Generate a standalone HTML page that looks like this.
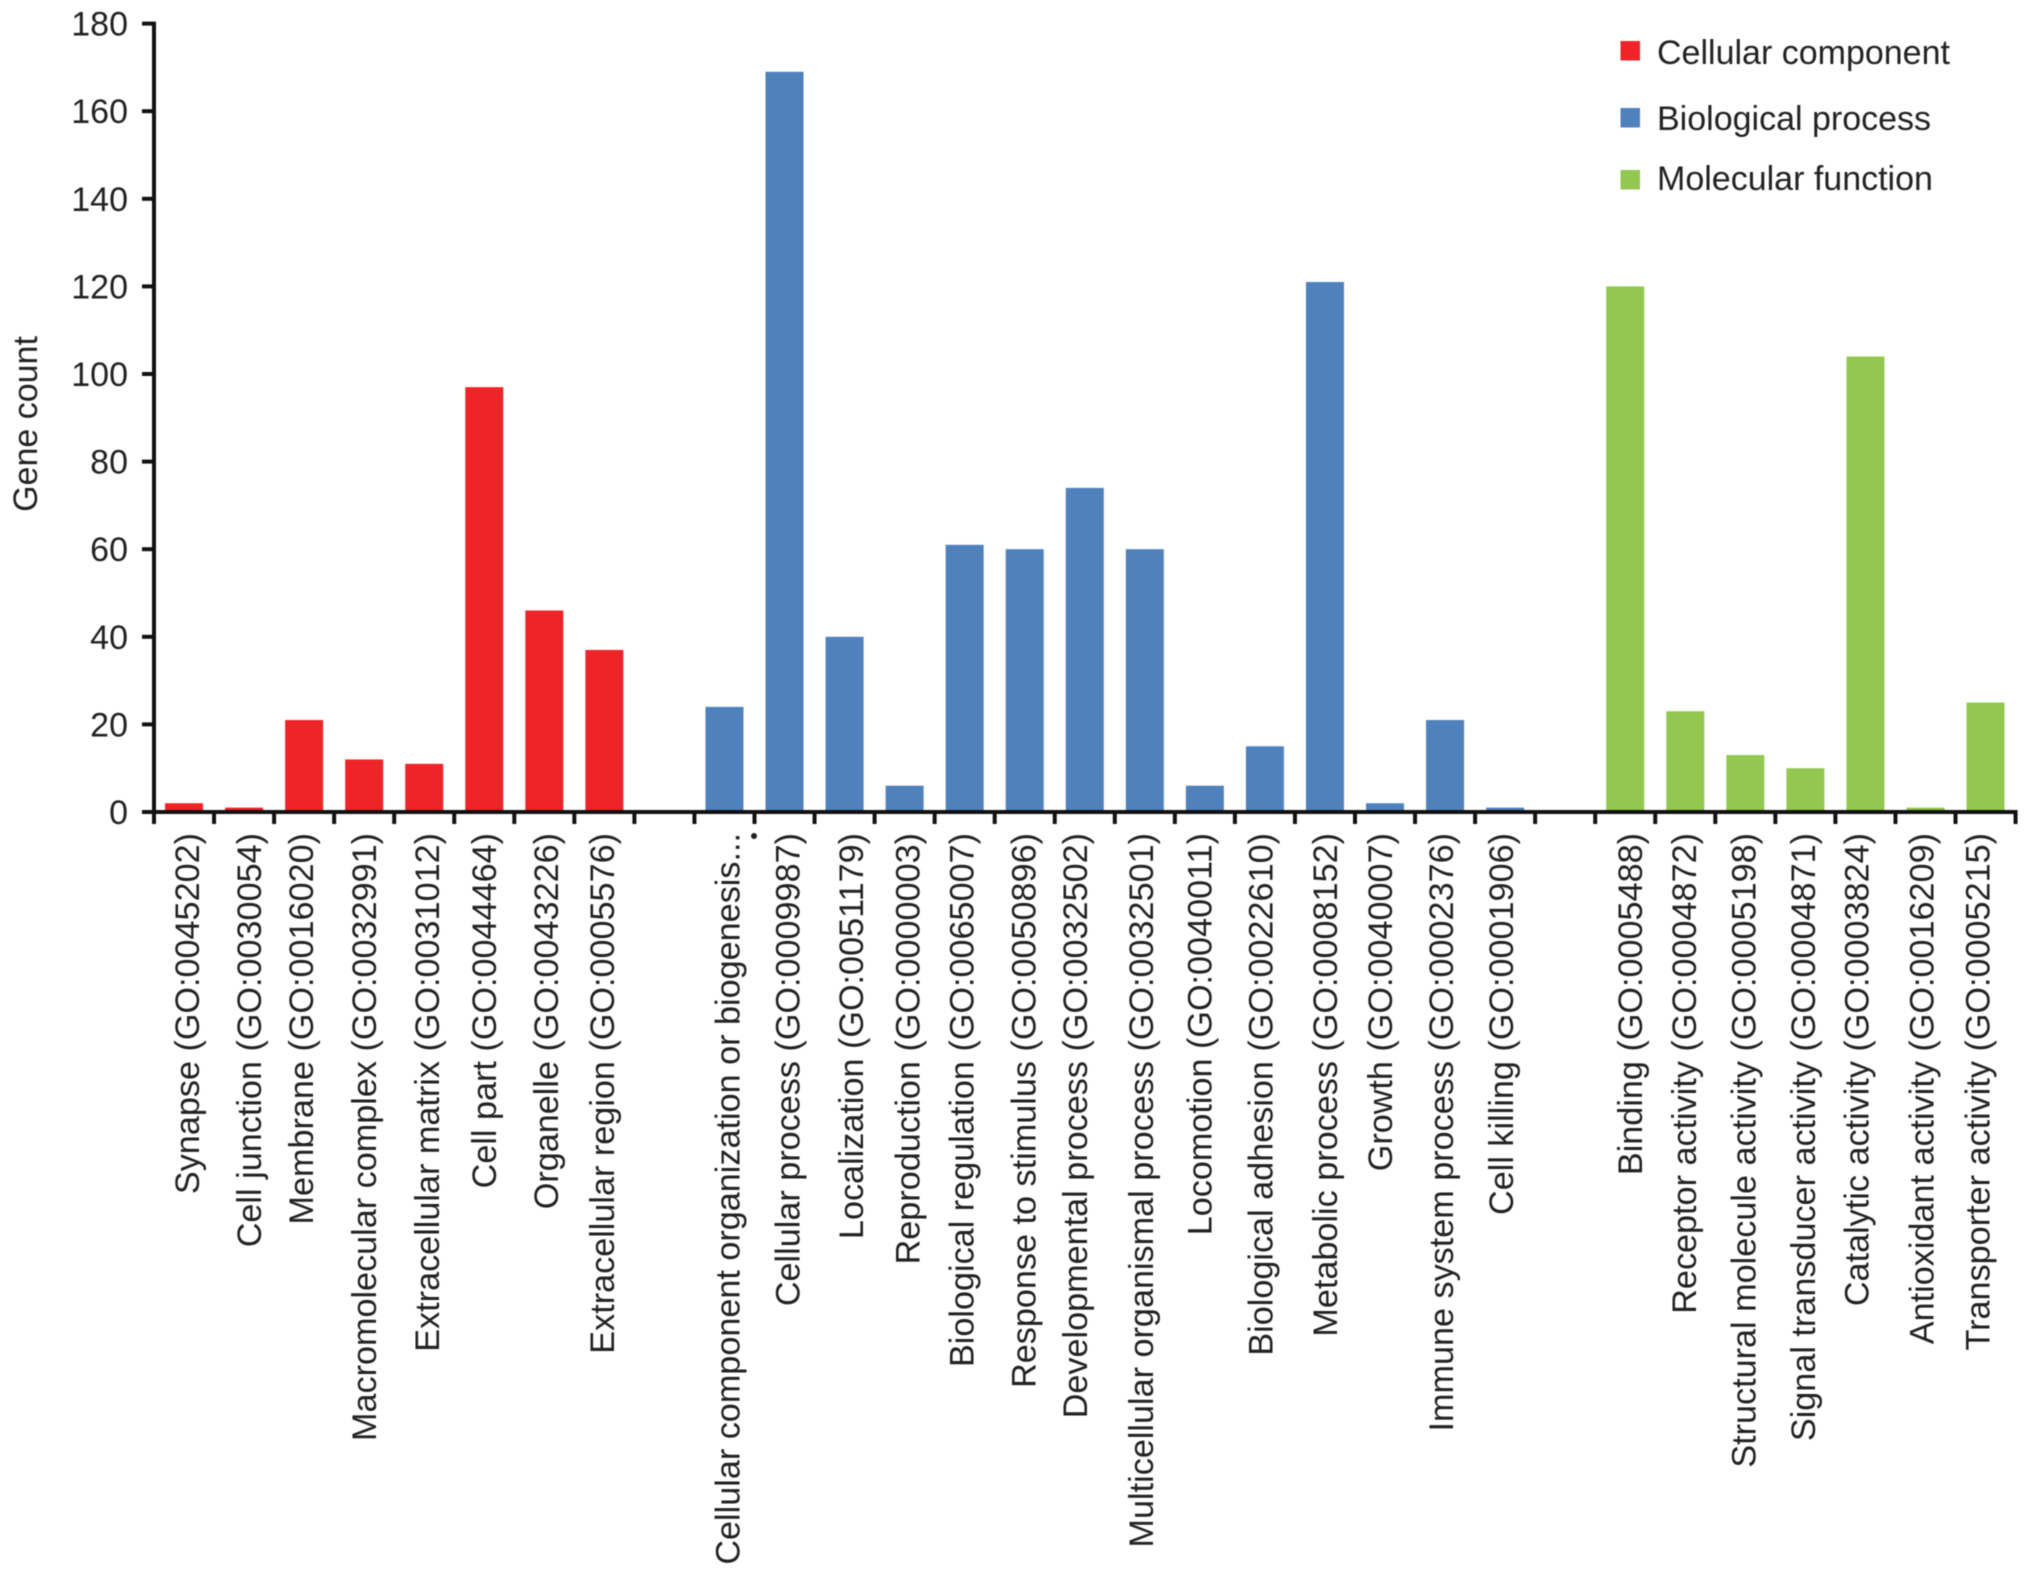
<!DOCTYPE html>
<html>
<head>
<meta charset="utf-8">
<title>Gene ontology bar chart</title>
<style>
html,body{margin:0;padding:0;background:#fff;}
svg{display:block;filter:blur(0.5px);}
text{font-family:"Liberation Sans",Arial,sans-serif;fill:#222;}
</style>
</head>
<body>
<svg id="chart" xmlns="http://www.w3.org/2000/svg" width="2032" height="1572" viewBox="0 0 2032 1572"></svg>
<script>
const categories = ["Synapse (GO:0045202)","Cell junction (GO:0030054)","Membrane (GO:0016020)","Macromolecular complex (GO:0032991)","Extracellular matrix (GO:0031012)","Cell part (GO:0044464)","Organelle (GO:0043226)","Extracellular region (GO:0005576)","","Cellular component organization or biogenesis...","Cellular process (GO:0009987)","Localization (GO:0051179)","Reproduction (GO:0000003)","Biological regulation (GO:0065007)","Response to stimulus (GO:0050896)","Developmental process (GO:0032502)","Multicellular organismal process (GO:0032501)","Locomotion (GO:0040011)","Biological adhesion (GO:0022610)","Metabolic process (GO:0008152)","Growth (GO:0040007)","Immune system process (GO:0002376)","Cell killing (GO:0001906)","","Binding (GO:0005488)","Receptor activity (GO:0004872)","Structural molecule activity (GO:0005198)","Signal transducer activity (GO:0004871)","Catalytic activity (GO:0003824)","Antioxidant activity (GO:0016209)","Transporter activity (GO:0005215)"];
const geneCounts = [2,1,21,12,11,97,46,37,null,24,169,40,6,61,60,74,60,6,15,121,2,21,1,null,120,23,13,10,104,1,25];
const seriesOf = ["cc","cc","cc","cc","cc","cc","cc","cc","","bp","bp","bp","bp","bp","bp","bp","bp","bp","bp","bp","bp","bp","bp","","mf","mf","mf","mf","mf","mf","mf"];
const yTicks = [0,20,40,60,80,100,120,140,160,180];
const legendLabels = ["Cellular component","Biological process","Molecular function"];
const legendKeys = ["cc","bp","mf"];

// layout only: hand-placed label offsets from the bar centre, as in the source figure
const labelNudge = [6,8,0,3,6,3,5,1,0,6,6,9.5,6,0,2,-6.7,-0.7,-2,-1,3,-2,-1,-1,0,8,2,1.4,0.6,-5.7,-0.7,-4.7];
const legendSwatchY = [41,108,170];
const legendTextY = [64,130,190];

const colors = {cc:"#ee2428",bp:"#4f81bd",mf:"#92c84f"};
const svg = document.getElementById("chart");
const NS = "http://www.w3.org/2000/svg";
const xLeft = 154, bandW = 60.05, barW = 38, yBase = 812, unitH = 4.38;
const xScale = i => xLeft + bandW * i;
const yScale = v => yBase - unitH * v;
function make(tag, attrs, parent){
  const el = document.createElementNS(NS, tag);
  for (const k in attrs) el.setAttribute(k, attrs[k]);
  (parent || svg).appendChild(el);
  return el;
}
function slug(s){ return s.toLowerCase().replace(/\(.*$/,"").replace(/[^a-z0-9]+/g,"-").replace(/^-|-$/g,""); }

// bars
geneCounts.forEach((v,i)=>{
  if (v === null) return;
  const r = make("rect",{x:xScale(i)+(bandW-barW)/2,y:yScale(v),width:barW,height:yBase-yScale(v),fill:colors[seriesOf[i]]});
  
  
});

// y axis
const yAxis = make("line",{x1:xLeft,x2:xLeft,y1:yScale(180)-2,y2:yBase+2,stroke:"#111","stroke-width":4});


yTicks.forEach(t=>{
  const tk = make("line",{x1:xLeft-12,x2:xLeft,y1:yScale(t),y2:yScale(t),stroke:"#111","stroke-width":4});
  
  
  const lb = make("text",{x:xLeft-26,y:yScale(t)+12,"text-anchor":"end","font-size":34});
  lb.textContent = t;
  
  
});
const yTitle = make("text",{x:37,y:424,"text-anchor":"middle","font-size":34,transform:"rotate(-90 37 424)"});
yTitle.textContent = "Gene count";



// x axis
const xAxis = make("line",{x1:xLeft-2,x2:xScale(categories.length)+2,y1:yBase,y2:yBase,stroke:"#111","stroke-width":4});


for (let i=0;i<=categories.length;i++){
  const tk = make("line",{x1:xScale(i),x2:xScale(i),y1:yBase,y2:yBase+12,stroke:"#111","stroke-width":4});
  
  
}
categories.forEach((c,i)=>{
  if (!c) return;
  const x = xScale(i)+bandW/2+labelNudge[i]+8.8, y = 833;
  const lb = make("text",{x:x,y:y,"text-anchor":"end","font-size":34.2,transform:`rotate(-90 ${x} ${y})`});
  lb.textContent = c;
  
  
});
const stray = make("circle",{cx:754,cy:836,r:3,fill:"#222"});



// legend
legendLabels.forEach((l,i)=>{
  const s = make("rect",{x:1620.5,y:legendSwatchY[i],width:19.5,height:19.5,fill:colors[legendKeys[i]]});
  
  
  const t = make("text",{x:1657,y:legendTextY[i],"font-size":34});
  t.textContent = l;
  
  
});
</script>
</body>
</html>
